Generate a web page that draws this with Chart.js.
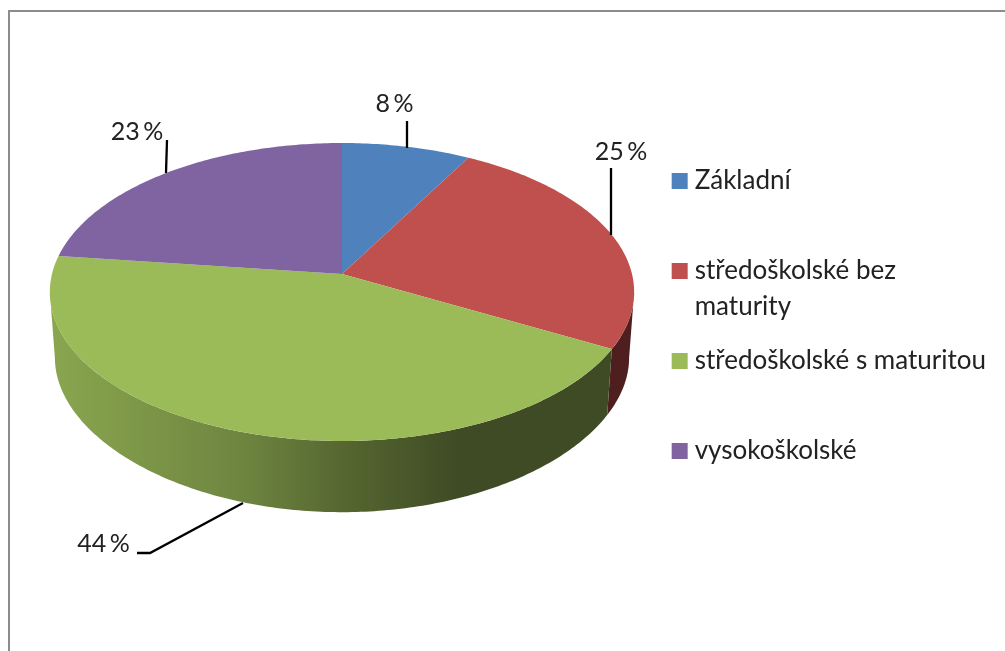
<!DOCTYPE html>
<html><head><meta charset="utf-8">
<script src="https://cdn.jsdelivr.net/npm/chart.js@4"></script>
<style>html,body{margin:0;background:#fff;overflow:hidden}
#c{position:absolute;left:0;top:0}
#f{position:absolute;left:8px;top:10px;width:1100px;height:700px;border:2.5px solid #8c8c8c;box-sizing:border-box}
</style></head><body>
<div id="f"></div>
<canvas id="c" width="1005" height="651"></canvas>
<script>
const categories = [['Základní',''], ['středoškolské bez','maturity'], ['středoškolské s maturitou',''], ['vysokoškolské','']];
const seriesValues = [8, 25, 44, 23];
const sliceColors = ['#4f81bd', '#c0504d', '#9bbb59', '#8064a2'];
const dataLabels = ['8 %', '25 %', '44 %', '23 %'];
const FONT = 'Lato';
function proj(a, d) { // a: chart angle (from 3 o'clock, clockwise); d: 0 rim top, 1 rim bottom
  const th = a + Math.PI / 2, X = Math.sin(th), Y = Math.cos(th);
  const wx = 1 + 0.1208 * Y, wy = 1 + (0.1208 + 0.05 * d) * Y;
  const R = 290 - 5 * d, S = 146.8 - 4.2 * d, cy = 274 + 66.2 * d;
  return [342 + R * X / wx, cy - S * Y / wy];
}
const plugin3d = {
  id: 'pie3d',
  beforeDatasetsDraw(chart) {
    const ctx = chart.ctx, arcs = chart.getDatasetMeta(0).data, N = 72;
    const path = (a0, a1, d, move) => {
      const n = Math.max(2, Math.ceil(Math.abs(a1 - a0) * N));
      for (let i = 0; i <= n; i++) {
        const p = proj(a0 + (a1 - a0) * i / n, d);
        (move && i === 0) ? ctx.moveTo(p[0], p[1]) : ctx.lineTo(p[0], p[1]);
      }
    };
    // side wall of the visible front half
    const frontA = Math.PI * 7 / 180, frontB = Math.PI * 173 / 180;
    arcs.forEach((arc, i) => {
      [[Math.max(arc.startAngle, frontA), Math.min(arc.endAngle, frontB)],
       [Math.max(arc.startAngle, frontA + 2 * Math.PI), Math.min(arc.endAngle, frontB + 2 * Math.PI)]].forEach(([s, e]) => {
        if (e <= s) return;
        ctx.beginPath(); path(s, e, 0, true); path(e, s, 1, false); ctx.closePath();
        const g = ctx.createLinearGradient(50, 0, 634, 0);
        if (i === 2) {
          g.addColorStop(0, '#8aa64f'); g.addColorStop(0.33, '#6e8540'); g.addColorStop(0.5, '#566731');
          g.addColorStop(0.7, '#3f4b24'); g.addColorStop(1, '#3f4b24');
        } else {
          g.addColorStop(0, '#4f1f1f'); g.addColorStop(1, '#4f1f1f');
        }
        ctx.fillStyle = g; ctx.fill();
      });
    });
    // top face
    arcs.forEach((arc, i) => {
      ctx.beginPath();
      ctx.moveTo(342, 274);
      path(arc.startAngle, arc.endAngle, 0, false);
      ctx.closePath();
      ctx.fillStyle = sliceColors[i]; ctx.fill();
    });
    return false;
  },
  afterDraw(chart) {
    const ctx = chart.ctx;
    ctx.save();
    ctx.strokeStyle = '#000'; ctx.lineWidth = 2.3;
    [[[407,121],[407,148]], [[611,168],[611,235]], [[137,553],[150,553],[243,503]], [[167,140],[166,173]]].forEach(pts => {
      ctx.beginPath(); pts.forEach((p, i) => i ? ctx.lineTo(p[0], p[1]) : ctx.moveTo(p[0], p[1])); ctx.stroke();
    });
    ctx.fillStyle = '#222'; ctx.font = '25px ' + FONT; ctx.textAlign = 'center'; ctx.textBaseline = 'middle';
    ctx.wordSpacing = '-3px';
    [[394.5,104],[621,151.5],[103.5,544],[137,132]].forEach((p, i) => ctx.fillText(dataLabels[i], p[0], p[1]));
    ctx.restore();
  }
};
new Chart(document.getElementById('c'), {
  type: 'pie',
  data: { labels: categories, datasets: [{ data: seriesValues, backgroundColor: sliceColors, borderWidth: 0 }] },
  plugins: [plugin3d],
  options: {
    responsive: false, animation: false,
    layout: { padding: { top: 150, right: 9, left: 0, bottom: 0 } },
    plugins: {
      tooltip: { enabled: false },
      legend: {
        position: 'right', align: 'start',
        labels: {
          boxWidth: 4, boxHeight: 4, padding: 18,
          color: '#222', font: { family: FONT, size: 26, lineHeight: 36 / 26 },
          generateLabels: () => categories.map((c, i) => ({
            text: c, fillStyle: sliceColors[i], strokeStyle: sliceColors[i], lineWidth: 12,
            fontColor: '#222', hidden: false, index: i
          }))
        }
      }
    }
  }
});
</script></body></html>
